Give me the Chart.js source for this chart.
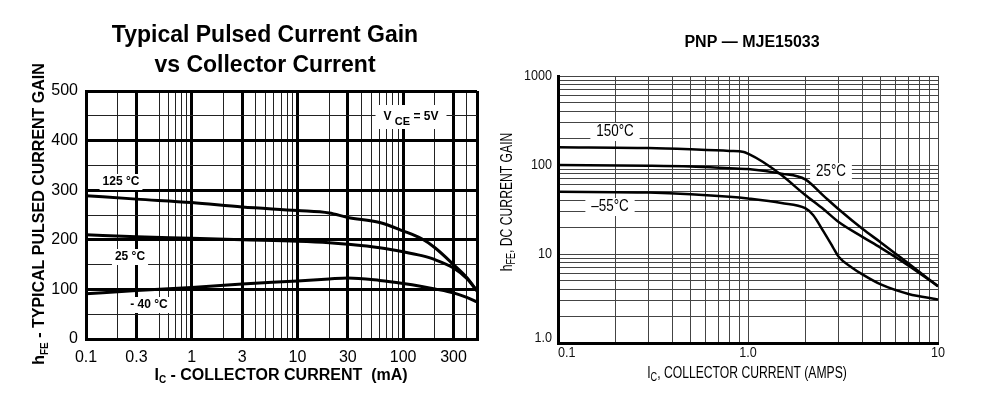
<!DOCTYPE html>
<html>
<head>
<meta charset="utf-8">
<script src="https://cdn.jsdelivr.net/npm/chart.js@4.4.1/dist/chart.umd.min.js"></script>
<style>
  html, body { margin: 0; padding: 0; background: #fff; }
  #wrap { position: relative; width: 1000px; height: 395px; }
  canvas { position: absolute; top: 0; }
  #left { left: 0; }
  #right { left: 500px; }
</style>
</head>
<body>
<div id="wrap">
  <canvas id="left" width="500" height="395"></canvas>
  <canvas id="right" width="500" height="395"></canvas>
</div>
<script>
// left chart: typical pulsed current gain (mA, linear gain)
const leftCurrent = [0.1, 0.3, 1, 3, 10, 20, 30, 60, 100, 150, 200, 300, 400, 500];
const gain125 = [289, 282, 275, 266, 259, 254, 245, 235, 218, 202, 184, 150, 124, 97];
const gain25 = [210, 206, 203, 200, 197, 194, 191, 184, 176, 168, 160, 143, 122, 97];
const gainMinus40 = [91, 98, 104, 111, 117, 121, 123, 118, 112, 106, 101, 93, 84, 75];

const leftGridX = [0.1, 0.2, 0.3, 0.5, 0.6, 0.7, 0.8, 0.9, 1, 2, 3, 4, 5, 6, 7, 8, 9,
  10, 20, 30, 40, 50, 60, 70, 80, 90, 100, 200, 300, 400, 500];
const leftMajorX = [0.1, 0.3, 1, 3, 10, 30, 100, 300, 500];
const leftXLabels = [0.1, 0.3, 1, 3, 10, 30, 100, 300];

// right chart: PNP MJE15033 dc current gain (amps, log gain)
const current150 = [0.1, 0.3, 0.5, 0.8, 0.95, 1.0, 1.2, 1.5, 2.0, 2.5, 3.0, 4.0, 5.0, 7.0, 10];
const gain150 = [158, 155, 150, 144, 140, 134, 108, 77, 46, 31.8, 22.9, 15.6, 11.7, 7.4, 4.35];
const current25 = [0.1, 0.3, 0.5, 0.8, 1.0, 1.5, 2.0, 2.5, 3.0, 4.0, 5.0, 7.0, 10];
const gain25b = [100, 98, 96, 92, 90, 80, 69, 45, 31.8, 19.2, 13.5, 7.8, 4.35];
const currentMinus55 = [0.1, 0.3, 0.5, 0.8, 1.0, 1.5, 2.0, 2.2, 2.5, 2.8, 3.0, 3.5, 4.0, 5.0, 7.0, 10];
const gainMinus55 = [50, 49, 47, 44, 42, 37.4, 32.7, 27.4, 17.8, 11.9, 9.3, 7.1, 5.9, 4.55, 3.56, 3.08];

const rightGridX = [0.1, 0.2, 0.3, 0.4, 0.5, 0.6, 0.7, 0.8, 0.9, 1, 2, 3, 4, 5, 6, 7, 8, 9, 10];
const rightGridY = [1, 2, 3, 4, 5, 6, 7, 8, 9, 10, 20, 30, 40, 50, 60, 70, 80, 90,
  100, 200, 300, 400, 500, 600, 700, 800, 900, 1000];
const rightXLabels = { 0.1: '0.1', 1: '1.0', 10: '10' };
const rightYLabels = { 1: '1.0', 10: '10', 100: '100', 1000: '1000' };

Chart.defaults.animation = false;

const ARIAL = '"Liberation Sans", Arial, sans-serif';
const NARROW_SX = 0.84; // no narrow font installed, squeeze Liberation Sans instead
const TITLE_SX = 0.76;

function pts(xs, ys) {
  return xs.map((x, i) => ({ x: x, y: ys[i] }));
}

function curve(xs, ys, width) {
  return {
    data: pts(xs, ys),
    borderColor: '#000',
    borderWidth: width,
    pointRadius: 0,
    cubicInterpolationMode: 'monotone',
    fill: false
  };
}

// draws a line of text made from parts (for subscripts), centred on x,y
function drawRich(ctx, parts, x, y, opts) {
  opts = opts || {};
  ctx.save();
  ctx.translate(x, y);
  if (opts.rotate) ctx.rotate(opts.rotate);
  if (opts.sx) ctx.scale(opts.sx, 1);
  ctx.textBaseline = 'middle';
  ctx.textAlign = 'left';
  let total = 0;
  const widths = parts.map(p => {
    ctx.font = p.font;
    const w = ctx.measureText(p.text).width;
    total += w;
    return w;
  });
  let cx = -total / 2;
  if (opts.align === 'right') cx = -total;
  if (opts.align === 'left') cx = 0;
  if (opts.bg) {
    ctx.fillStyle = '#fff';
    ctx.fillRect(cx - opts.bg[0], -opts.bg[1], total + 2 * opts.bg[0], 2 * opts.bg[1]);
  }
  ctx.fillStyle = opts.color || '#000';
  parts.forEach((p, i) => {
    ctx.font = p.font;
    ctx.fillText(p.text, cx, p.dy || 0);
    cx += widths[i];
  });
  ctx.restore();
}

const leftText = {
  id: 'leftText',
  afterDraw(chart) {
    const ctx = chart.ctx;
    const b16 = 'bold 16px ' + ARIAL;
    const b10 = 'bold 10px ' + ARIAL;
    const b12 = 'bold 12px ' + ARIAL;
    drawRich(ctx, [{ text: 'Typical Pulsed Current Gain', font: 'bold 23px ' + ARIAL }], 265, 36);
    drawRich(ctx, [{ text: 'vs Collector Current', font: 'bold 23px ' + ARIAL }], 265, 66);
    drawRich(ctx, [
      { text: 'h', font: b16 },
      { text: 'FE', font: b10, dy: 5 },
      { text: ' - TYPICAL PULSED CURRENT GAIN', font: b16 }
    ], 40, 214, { rotate: -Math.PI / 2 });
    drawRich(ctx, [
      { text: 'I', font: b16 },
      { text: 'C', font: b10, dy: 4 },
      { text: ' - COLLECTOR CURRENT  (mA)', font: b16 }
    ], 281, 376);
    drawRich(ctx, [{ text: '125 °C', font: b12 }], 121, 182, { bg: [3, 8] });
    drawRich(ctx, [{ text: '25 °C', font: b12 }], 130, 257, { bg: [3, 8] });
    drawRich(ctx, [{ text: '- 40 °C', font: b12 }], 149, 305, { bg: [3, 8] });
    drawRich(ctx, [
      { text: 'V ', font: b12 },
      { text: 'CE', font: 'bold 11px ' + ARIAL, dy: 5 },
      { text: ' = 5V', font: b12 }
    ], 411, 117, { bg: [8, 12] });
  }
};

new Chart(document.getElementById('left'), {
  type: 'line',
  data: {
    datasets: [
      curve(leftCurrent, gain125, 3),
      curve(leftCurrent, gain25, 3),
      curve(leftCurrent, gainMinus40, 3)
    ]
  },
  options: {
    responsive: false,
    layout: { padding: { left: 0, right: 23, top: 91, bottom: 0 } },
    plugins: { legend: { display: false }, tooltip: { enabled: false } },
    scales: {
      x: {
        type: 'logarithmic',
        min: 0.1,
        max: 500,
        afterBuildTicks: s => { s.ticks = leftGridX.map(v => ({ value: v })); },
        afterFit: s => { s.height = 56; },
        grid: {
          color: c => (c.tick && leftMajorX.includes(c.tick.value)) ? '#000' : '#222',
          lineWidth: c => (c.tick && leftMajorX.includes(c.tick.value)) ? 3 : 1,
          drawTicks: false
        },
        border: { display: true, color: '#000', width: 3 },
        ticks: {
          autoSkip: false,
          maxRotation: 0,
          minRotation: 0,
          padding: 9,
          color: '#000',
          font: { family: ARIAL, size: 16 },
          callback: v => leftXLabels.includes(v) ? String(v) : ''
        }
      },
      y: {
        type: 'linear',
        min: 0,
        max: 500,
        afterFit: s => { s.width = 86; },
        grid: {
          color: c => (c.tick && c.tick.value % 100 === 0) ? '#000' : '#222',
          lineWidth: c => (c.tick && c.tick.value % 100 === 0) ? 3 : 1,
          drawTicks: false
        },
        border: { display: true, color: '#000', width: 3 },
        ticks: {
          stepSize: 50,
          padding: 8,
          color: '#000',
          font: { family: ARIAL, size: 16 },
          callback: v => v % 100 === 0 ? String(v) : ''
        }
      }
    }
  },
  plugins: [leftText]
});

const rightText = {
  id: 'rightText',
  afterDraw(chart) {
    const ctx = chart.ctx;
    const n15 = '15px ' + ARIAL;
    const n16 = '16px ' + ARIAL;
    const sub = '12px ' + ARIAL;
    // tick labels, placed through the chart's own scales
    Object.keys(rightXLabels).forEach(k => {
      const v = Number(k);
      const px = chart.scales.x.getPixelForValue(v);
      const opts = { sx: NARROW_SX, color: '#111' };
      if (v === 0.1) opts.align = 'left';
      drawRich(ctx, [{ text: rightXLabels[k], font: n15 }], px, 353, opts);
    });
    Object.keys(rightYLabels).forEach(k => {
      const v = Number(k);
      const py = chart.scales.y.getPixelForValue(v) - (v === 1 ? 5 : 0);
      drawRich(ctx, [{ text: rightYLabels[k], font: n15 }], 52, py, { sx: NARROW_SX, align: 'right', color: '#111' });
    });
    drawRich(ctx, [{ text: 'PNP — MJE15033', font: 'bold 16px ' + ARIAL }], 252, 43);
    drawRich(ctx, [
      { text: 'h', font: n16 },
      { text: 'FE', font: sub, dy: 4 },
      { text: ', DC CURRENT GAIN', font: n16 }
    ], 8, 202, { rotate: -Math.PI / 2, sx: TITLE_SX });
    drawRich(ctx, [
      { text: 'I', font: n16 },
      { text: 'C', font: sub, dy: 4 },
      { text: ', COLLECTOR CURRENT (AMPS)', font: n16 }
    ], 247, 374, { sx: TITLE_SX });
    drawRich(ctx, [{ text: '150°C', font: n16 }], 115, 132, { bg: [7, 9], sx: NARROW_SX });
    drawRich(ctx, [{ text: '25°C', font: n16 }], 331, 172, { bg: [7, 9], sx: NARROW_SX });
    drawRich(ctx, [{ text: '–55°C', font: n16 }], 110, 207, { bg: [7, 9], sx: NARROW_SX });
  }
};

new Chart(document.getElementById('right'), {
  type: 'line',
  data: {
    datasets: [
      curve(current150, gain150, 2.5),
      curve(current25, gain25b, 2.5),
      curve(currentMinus55, gainMinus55, 2.5)
    ]
  },
  options: {
    responsive: false,
    layout: { padding: { left: 0, right: 62, top: 76, bottom: 0 } },
    plugins: { legend: { display: false }, tooltip: { enabled: false } },
    scales: {
      x: {
        type: 'logarithmic',
        min: 0.1,
        max: 10,
        afterBuildTicks: s => { s.ticks = rightGridX.map(v => ({ value: v })); },
        afterFit: s => { s.height = 52; },
        grid: { color: '#444', lineWidth: 1, drawTicks: false },
        border: { display: true, color: '#000', width: 3 },
        ticks: { display: false, autoSkip: false }
      },
      y: {
        type: 'logarithmic',
        min: 1,
        max: 1000,
        afterBuildTicks: s => { s.ticks = rightGridY.map(v => ({ value: v })); },
        afterFit: s => { s.width = 58; },
        grid: { color: '#444', lineWidth: 1, drawTicks: false },
        border: { display: true, color: '#000', width: 3 },
        ticks: { display: false, autoSkip: false }
      }
    }
  },
  plugins: [rightText]
});
</script>
</body>
</html>
